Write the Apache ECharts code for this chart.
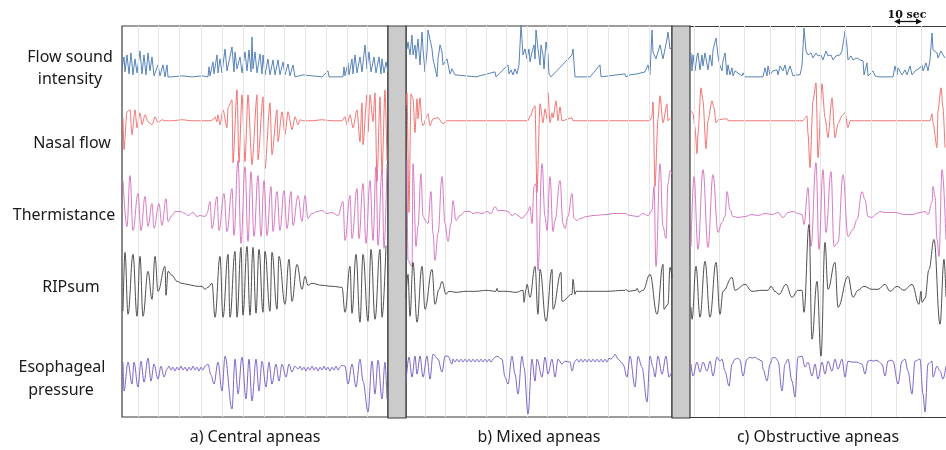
<!DOCTYPE html>
<html>
<head>
<meta charset="utf-8">
<script src="https://cdn.jsdelivr.net/npm/echarts@6/dist/echarts.min.js"></script>
<style>
  html, body { margin: 0; padding: 0; background: #fff; }
  #main { width: 946px; height: 450px; }
</style>
</head>
<body>
<div id="main"></div>
<script>
// x = sample index from the left edge of a panel (a, b: 1 sample = 0.48 s, c: 1 sample = 0.4 s)
// y = trace amplitude in arbitrary units, 0 = resting level, pairs are [x, y, x, y, ...]

// ---- a) Central apneas
const flowA = [0,8, 2,20, 3,5, 5,22, 7,3, 9,24, 11,2, 13,18, 15,4, 18,26, 20,3, 22,22, 24,2, 26,24, 28,6, 30,20, 32,1, 36,12, 38,1, 41,12, 43,0, 45,12, 46,0, 50,0, 60,1, 70,0, 80,1, 86,0,
  87,10, 88,1, 91,15, 92,3, 95,22, 96,4, 98,18, 100,4, 103,28, 105,6, 110,30, 112,5, 113,25, 115,8, 118,20, 120,4, 123,25, 125,6, 127,27, 129,5, 130,40, 131,8, 133,25, 135,4, 138,23, 140,3, 141,22, 143,2, 146,18, 148,2, 151,17, 153,2, 156,17, 158,2, 161,15, 163,2, 166,13, 168,1, 171,12, 173,0, 175,0, 181,2, 182,0, 200,0, 206,6, 207,0, 221,0,
  222,10, 223,1, 226,14, 227,2, 230,18, 231,3, 233,22, 235,4, 238,20, 240,5, 243,32, 245,8, 247,25, 249,5, 252,20, 254,4, 257,20, 259,3, 260,18, 262,4, 264,15, 266,5];
const nasalA = [1,3, 2,-29, 5,9, 8,11, 10,-14, 13,11, 15,-7, 18,8, 20,-4, 23,6, 26,-1, 30,-4, 33,4, 36,-2, 40,1, 43,0, 50,0, 60,1, 70,0, 80,0, 88,0, 91,1, 93,4, 95,-1, 96,6, 98,-4, 101,11, 105,-7, 106,13, 110,21, 111,-42, 115,31, 117,-42, 120,26, 123,-41, 126,26, 130,-44, 135,26, 136,-39, 141,24, 143,-48, 148,18, 150,-34, 155,11, 156,-21, 160,9, 163,-14, 166,9, 170,-9, 173,4, 176,-4, 178,1, 181,0, 190,0, 200,1, 210,0, 220,0, 223,4, 225,-4, 228,6, 231,-7, 235,11, 238,-21, 240,18, 241,-24, 245,26, 246,-11, 248,26, 251,-1, 253,28, 255,-61, 258,24, 260,-54, 263,31, 265,-40];
const thermA = [1,33, 5,-13, 8,38, 11,-17, 16,20, 19,-17, 23,17, 26,-13, 30,10, 32,-15, 37,10, 40,-12, 44,15, 46,-8, 50,-2, 53,2, 58,2, 63,0, 66,-2, 71,1, 75,-3, 78,-2, 83,-3, 85,0, 88,12, 90,-15, 95,17, 97,-17, 102,20, 105,-18, 110,25, 112,-22, 116,53, 119,-30, 123,47, 126,-28, 129,42, 132,-23, 136,38, 139,-23, 142,33, 145,-22, 149,27, 151,-18, 155,22, 158,-17, 162,23, 165,-15, 169,22, 171,-12, 176,18, 180,-8, 183,18, 186,-5, 190,0, 195,2, 200,3, 205,0, 210,1, 216,-2, 221,12, 223,-27, 228,18, 230,-25, 235,25, 237,-25, 241,30, 244,-30, 248,33, 251,-27, 254,47, 256,-32, 260,43, 262,-35, 265,50];
const ripA = [1,-24, 3,35, 6,-27, 11,33, 15,-29, 18,31, 21,-29, 26,16, 30,-12, 33,31, 36,-4, 43,21, 44,-8, 46,16, 50,12, 55,6, 60,4, 65,3, 70,2, 75,1, 80,1, 83,-2, 86,0, 90,4, 93,-30, 98,31, 101,-30, 106,33, 108,-30, 113,36, 115,-30, 119,40, 121,-28, 125,41, 128,-28, 131,40, 134,-26, 137,38, 141,-25, 143,36, 148,-24, 150,35, 155,-22, 157,31, 163,-17, 167,28, 170,-14, 175,23, 180,-2, 183,11, 186,2, 190,4, 200,2, 210,1, 220,0, 223,-25, 228,21, 230,-26, 234,33, 238,-35, 241,33, 246,-34, 249,38, 253,-32, 258,38, 260,-30, 264,42];
const esoA = [1,-1, 2,-30, 6,-1, 10,-23, 12,-1, 16,-26, 19,0, 22,-21, 26,3, 29,-20, 32,-3, 36,-18, 39,-5, 42,-16, 45,-8, 47,-5, 49,-9, 51,-6, 53,-10, 55,-6, 57,-9, 59,-5, 61,-9, 63,-6, 65,-10, 67,-6, 69,-9, 71,-5, 73,-9, 75,-6, 77,-10, 79,-6, 81,-9, 83,-5, 86,-3, 89,-14, 92,-23, 96,-1, 100,-30, 103,5, 110,-48, 113,2, 116,-33, 120,4, 124,-38, 127,2, 130,-40, 134,2, 137,-30, 140,0, 144,-26, 147,-1, 150,-23, 154,-3, 157,-20, 160,-3, 164,-16, 167,-3, 170,-11, 173,-5, 176,-8, 178,-5, 180,-9, 182,-6, 184,-10, 186,-6, 188,-9, 190,-5, 192,-9, 194,-6, 196,-10, 198,-6, 200,-9, 202,-5, 204,-9, 206,-6, 208,-10, 210,-6, 212,-9, 214,-5, 216,-9, 218,-6, 220,-4, 223,-5, 226,-23, 230,-3, 234,-26, 238,2, 241,-20, 246,-51, 250,0, 253,-33, 256,1, 260,-38, 263,-1, 265,-38];

// ---- b) Mixed apneas
const flowB = [1,28, 2,35, 4,22, 6,42, 7,22, 9,32, 10,18, 12,38, 14,12, 16,45, 17,28, 19,5, 21,25, 22,47, 24,48, 26,28, 27,18, 31,0, 32,18, 34,32, 36,25, 37,12, 41,18, 44,3, 46,8, 49,2, 51,0, 60,1, 70,0, 89,5, 90,0, 102,12, 103,3, 105,7, 107,2, 109,8, 111,3, 113,12, 115,52, 117,22, 119,28, 121,18, 123,28, 124,15, 126,25, 128,32, 129,18, 130,47, 132,28, 134,12, 135,32, 137,22, 138,8, 140,35, 142,22, 143,3, 145,0, 166,22, 167,28, 169,0, 184,0, 194,12, 195,0, 219,3, 220,0, 224,2, 231,3, 239,5, 242,12, 244,2, 246,47, 247,25, 250,18, 254,32, 257,18, 261,38, 262,45, 264,28, 266,30];
const nasalB = [0,15, 1,28, 3,-92, 5,27, 7,22, 9,-12, 11,22, 12,2, 14,23, 16,-2, 17,-5, 21,5, 22,7, 24,-5, 27,2, 32,3, 37,-3, 41,0, 50,0, 70,0, 100,0, 122,0, 124,5, 125,5, 127,12, 129,15, 131,-72, 134,17, 137,-2, 139,12, 141,2, 142,28, 144,-2, 146,8, 147,3, 150,20, 152,0, 154,14, 156,0, 166,3, 167,0, 200,0, 244,0, 246,5, 247,19, 249,-66, 252,2, 254,25, 257,-2, 261,17, 262,0, 264,2, 266,2];
const thermB = [1,53, 2,-47, 6,-53, 7,50, 10,-33, 12,-13, 15,40, 17,-3, 20,-8, 22,-10, 25,22, 27,-20, 29,-47, 32,-20, 36,37, 39,-10, 42,-28, 45,-10, 47,13, 50,-7, 54,-2, 59,2, 64,2, 67,0, 71,1, 76,0, 81,2, 85,0, 89,7, 92,3, 97,3, 102,2, 106,-2, 109,0, 112,-2, 116,-5, 119,-2, 122,2, 124,7, 126,-10, 128,27, 130,30, 132,-57, 136,50, 139,-3, 141,-17, 144,37, 147,-18, 149,-7, 154,33, 157,-10, 159,-15, 162,-3, 166,20, 168,-5, 171,-7, 174,-5, 181,-3, 187,-2, 201,-1, 207,0, 219,0, 224,-2, 232,-3, 237,0, 242,-2, 246,3, 248,27, 250,-53, 254,50, 257,-13, 260,-25, 262,30, 264,43, 266,40];
const ripB = [0,-10, 2,13, 4,-29, 7,25, 11,-35, 16,21, 19,-22, 26,18, 29,-17, 33,-2, 36,6, 40,-7, 43,-4, 50,-5, 60,-4, 70,-4, 80,-3, 90,-4, 91,-1, 92,-4, 100,-4, 110,-5, 117,-3, 118,-15, 120,-2, 121,3, 124,-10, 129,21, 132,-27, 134,18, 140,-34, 146,18, 147,-22, 155,15, 156,-14, 166,-7, 167,8, 169,-7, 170,-4, 180,-4, 190,-4, 200,-4, 219,-3, 220,-2, 222,-4, 230,-3, 231,-1, 233,-5, 237,-3, 244,13, 251,-27, 257,23, 258,-22, 262,-17, 264,20, 266,10];
const esoB = [0,-20, 3,4, 6,-16, 9,5, 11,-13, 14,5, 17,-16, 21,5, 24,-18, 27,7, 32,2, 36,-11, 39,5, 42,5, 46,-3, 47,2, 49,-1, 51,2, 53,-1, 55,2, 57,-1, 59,2, 61,-1, 63,2, 65,-1, 67,2, 69,-1, 71,2, 73,-1, 75,2, 77,-1, 79,2, 81,-1, 83,2, 85,-1, 87,2, 89,4, 91,5, 96,2, 99,-16, 102,-23, 106,5, 109,-13, 112,-33, 116,5, 118,-6, 122,-53, 126,2, 129,-20, 131,2, 136,-16, 139,4, 142,-13, 146,2, 149,-16, 152,2, 156,-3, 159,0, 164,-1, 166,-10, 169,0, 171,2, 173,-1, 175,2, 177,-1, 179,2, 181,-1, 183,2, 185,-1, 187,2, 189,-1, 191,2, 193,-1, 195,2, 197,-1, 199,2, 201,-1, 203,3, 205,2, 207,4, 209,7, 212,2, 217,-3, 221,-16, 224,5, 229,-26, 232,5, 236,-6, 241,-41, 244,5, 247,-6, 249,-16, 252,5, 256,-13, 260,5, 263,-16, 266,-10];

// ---- c) Obstructive apneas
const flowC = [1,24, 2,6, 3,22, 5,6, 7,21, 8,24, 10,7, 12,22, 13,11, 15,24, 18,7, 20,22, 22,11, 23,27, 26,39, 28,21, 30,11, 32,6, 33,16, 35,24, 37,2, 38,12, 40,2, 42,9, 43,1, 45,6, 52,1, 53,4, 55,0, 73,0, 75,9, 77,1, 78,11, 80,2, 83,6, 87,7, 88,2, 90,11, 93,6, 95,12, 97,2, 100,11, 102,12, 103,1, 107,2, 110,2, 112,11, 114,49, 116,26, 118,22, 121,24, 123,19, 126,24, 128,21, 131,22, 133,17, 136,26, 138,21, 141,22, 143,17, 146,21, 148,19, 150,22, 152,26, 155,46, 157,31, 158,17, 161,21, 163,17, 167,19, 170,17, 173,16, 174,2, 177,14, 178,1, 183,6, 185,1, 188,0, 203,0, 205,11, 207,2, 208,9, 212,2, 215,7, 217,2, 220,11, 222,2, 225,6, 230,9, 232,12, 233,6, 236,14, 238,6, 240,17, 242,44, 243,27, 247,24, 248,19, 251,26, 253,22, 255,19];
const nasalC = [1,10, 3,7, 5,-7, 7,-33, 8,-13, 11,33, 13,20, 16,-28, 18,0, 22,20, 24,13, 26,-2, 28,1, 37,2, 38,0, 50,0, 80,0, 113,0, 115,3, 117,5, 118,-13, 120,-47, 123,20, 126,38, 128,-37, 132,37, 135,3, 138,-17, 142,23, 145,-17, 148,-3, 152,5, 155,8, 158,-7, 160,0, 200,0, 240,0, 242,7, 243,-2, 247,-27, 248,10, 251,33, 253,13, 255,-27];
const thermC = [1,-33, 4,37, 8,-36, 13,44, 18,-34, 23,39, 28,-19, 32,-9, 35,-3, 37,22, 40,4, 43,-3, 48,-4, 55,-3, 62,-1, 68,-2, 75,0, 82,-1, 88,1, 93,-4, 98,1, 103,2, 108,0, 112,-1, 114,-11, 118,26, 121,-33, 126,51, 129,-36, 133,44, 136,-19, 141,42, 144,-33, 148,-29, 153,39, 158,-23, 163,-16, 167,-6, 172,22, 175,14, 178,-3, 182,-4, 187,0, 190,2, 195,1, 205,1, 215,-1, 222,-1, 230,1, 235,2, 238,-1, 242,11, 243,27, 245,17, 247,-26, 249,-43, 252,44, 256,-26];
const ripC = [1,-20, 2,-32, 6,21, 10,-30, 15,26, 20,-30, 26,25, 30,-27, 33,-4, 42,10, 45,-3, 55,3, 62,-4, 72,-3, 78,-3, 81,1, 85,-4, 89,-7, 96,3, 102,-10, 108,-3, 112,-3, 114,-25, 119,63, 122,-52, 127,6, 131,-69, 135,45, 138,-2, 145,25, 148,-20, 158,11, 163,-10, 168,-3, 174,1, 182,-2, 188,-2, 195,3, 200,-4, 207,1, 214,-3, 222,3, 229,-17, 231,-4, 232,-15, 235,-11, 239,18, 244,48, 250,-37, 254,28, 256,-10];
const esoC = [1,-3, 3,-15, 7,-1, 10,-11, 13,-1, 17,-10, 20,0, 23,-15, 27,4, 30,0, 32,2, 35,-10, 39,-25, 42,-3, 45,2, 48,3, 50,1, 53,-15, 57,2, 60,4, 62,3, 65,4, 68,2, 72,0, 73,-8, 77,-20, 80,-3, 83,4, 86,3, 88,0, 92,-30, 95,-3, 98,2, 102,-20, 105,-36, 108,4, 112,5, 115,-6, 118,-1, 122,-15, 125,-3, 128,-18, 132,-1, 135,-13, 138,0, 142,-10, 145,2, 148,-8, 152,2, 155,-16, 158,0, 162,-1, 167,-1, 172,-3, 175,-13, 178,0, 181,1, 183,0, 186,1, 188,0, 192,-3, 195,-15, 198,0, 201,1, 203,0, 208,-23, 212,0, 215,2, 218,-10, 222,-33, 225,0, 230,2, 233,-33, 235,-51, 238,-3, 242,0, 243,-16, 247,-5, 250,-10, 253,-18, 256,-5];

// vertical grid lines (every 10 s), in samples from panel edge
const ticksA = [16, 36, 57, 79, 100, 121, 142, 162, 183, 204, 225, 245];
const ticksB = [19, 39, 60, 80, 100, 121, 141, 161, 181, 202, 222, 243];
const ticksC = [4, 29, 54, 80, 105, 130, 155, 181, 206, 231];

const traceNames = ['Flow sound intensity', 'Nasal flow', 'Thermistance', 'RIPsum', 'Esophageal pressure'];
const traceColors = ['#4f7db4', '#f26d6d', '#d474c1', '#474747', '#775dc2'];
const traceSmooth = [0, 0.25, 0.4, 0.4, 0.35];
const panelLabels = ['a) Central apneas', 'b) Mixed apneas', 'c) Obstructive apneas'];

// layout
const TOP = 26, BOTTOM = 418;
const FRAME = '#3a3a3a';
const lanes = [77, 121, 214, 288, 362];   // resting level of each trace, px from top
const panels = [
  { left: 122, width: 266, traces: [flowA, nasalA, thermA, ripA, esoA], ticks: ticksA, openRight: false },
  { left: 406, width: 266, traces: [flowB, nasalB, thermB, ripB, esoB], ticks: ticksB, openRight: false },
  { left: 690, width: 256, traces: [flowC, nasalC, thermC, ripC, esoC], ticks: ticksC, openRight: true }
];
const bars = [{ left: 388, width: 18 }, { left: 672, width: 18 }];

function pairs(a) {
  const out = [];
  for (let i = 0; i < a.length; i += 2) out.push([a[i], a[i + 1]]);
  return out;
}

const grid = [], xAxis = [], yAxis = [], series = [];
const labelFont = '"Noto Sans", "Liberation Sans", sans-serif';
const frameLine = { show: true, onZero: false, lineStyle: { color: FRAME, width: 1.2 } };

panels.forEach((p, pi) => {
  // panel c runs off the right edge of the figure: no box, only top and bottom rules
  grid.push({ left: p.left, top: TOP, width: p.width, height: BOTTOM - TOP, show: true,
    backgroundColor: '#fff', borderColor: FRAME, borderWidth: p.openRight ? 0 : 1.2 });
  const xi = xAxis.length;
  xAxis.push({ type: 'value', gridIndex: pi, min: 0, max: p.width, position: 'bottom',
    axisLine: p.openRight ? frameLine : { show: false },
    axisTick: { show: false }, axisLabel: { show: false }, splitLine: { show: false },
    name: panelLabels[pi], nameLocation: 'middle', nameGap: 12,
    nameTextStyle: { fontFamily: labelFont, fontSize: 16, color: '#1a1a1a' } });
  if (p.openRight) {
    xAxis.push({ type: 'value', gridIndex: pi, min: 0, max: p.width, position: 'top',
      axisLine: frameLine, axisTick: { show: false }, axisLabel: { show: false }, splitLine: { show: false } });
  }
  const y0 = yAxis.length;
  lanes.forEach(base => {
    yAxis.push({ type: 'value', gridIndex: pi, show: false, min: base - BOTTOM, max: base - TOP });
  });
  // grid lines
  series.push({ type: 'line', xAxisIndex: xi, yAxisIndex: y0, data: [], z: 1, silent: true,
    markLine: { silent: true, symbol: 'none', label: { show: false },
      lineStyle: { color: '#e6e6e6', type: 'solid', width: 1 },
      data: p.ticks.map(t => ({ xAxis: t })) } });
  p.traces.forEach((tr, k) => {
    series.push({ name: traceNames[k], type: 'line', xAxisIndex: xi, yAxisIndex: y0 + k,
      data: pairs(tr), showSymbol: false, symbol: 'none', z: 3 + k, silent: true,
      smooth: traceSmooth[k], smoothMonotone: 'x',
      lineStyle: { color: traceColors[k], width: 1, opacity: 0.95 } });
  });
});

bars.forEach(b => {
  const gi = grid.length;
  grid.push({ left: b.left, top: TOP, width: b.width, height: BOTTOM - TOP, show: true,
    backgroundColor: '#cbcbcb', borderColor: FRAME, borderWidth: 1.2 });
  xAxis.push({ type: 'value', gridIndex: gi, show: false });
  yAxis.push({ type: 'value', gridIndex: gi, show: false });
});

// left-hand trace labels
const sideLabels = [
  ['Flow sound', 70, 57], ['intensity', 70, 79], ['Nasal flow', 72, 143], ['Thermistance', 64, 215],
  ['RIPsum', 71, 287], ['Esophageal', 62, 367], ['pressure', 61, 390]
];
const graphic = sideLabels.map(([t, x, y]) => ({
  type: 'text', x: x, y: y, silent: true,
  style: { text: t, align: 'center', verticalAlign: 'middle', textAlign: 'center', textVerticalAlign: 'middle',
    font: '16px ' + labelFont, fill: '#1a1a1a' }
}));
// 10 s scale bar
graphic.push(
  { type: 'text', x: 907, y: 15, silent: true,
    style: { text: '10 sec', align: 'center', verticalAlign: 'middle', textAlign: 'center', textVerticalAlign: 'middle',
      font: 'bold 11px "DejaVu Serif", serif', fill: '#111' } },
  { type: 'line', silent: true, shape: { x1: 898, y1: 21.5, x2: 918, y2: 21.5 }, style: { stroke: '#111', lineWidth: 1.3 } },
  { type: 'polygon', silent: true, shape: { points: [[894, 21.5], [900, 18.5], [900, 24.5]] }, style: { fill: '#111' } },
  { type: 'polygon', silent: true, shape: { points: [[922, 21.5], [916, 18.5], [916, 24.5]] }, style: { fill: '#111' } }
);

const chart = echarts.init(document.getElementById('main'), null, { renderer: 'canvas' });
chart.setOption({
  animation: false,
  backgroundColor: '#fff',
  grid, xAxis, yAxis, series, graphic
});
</script>
</body>
</html>
